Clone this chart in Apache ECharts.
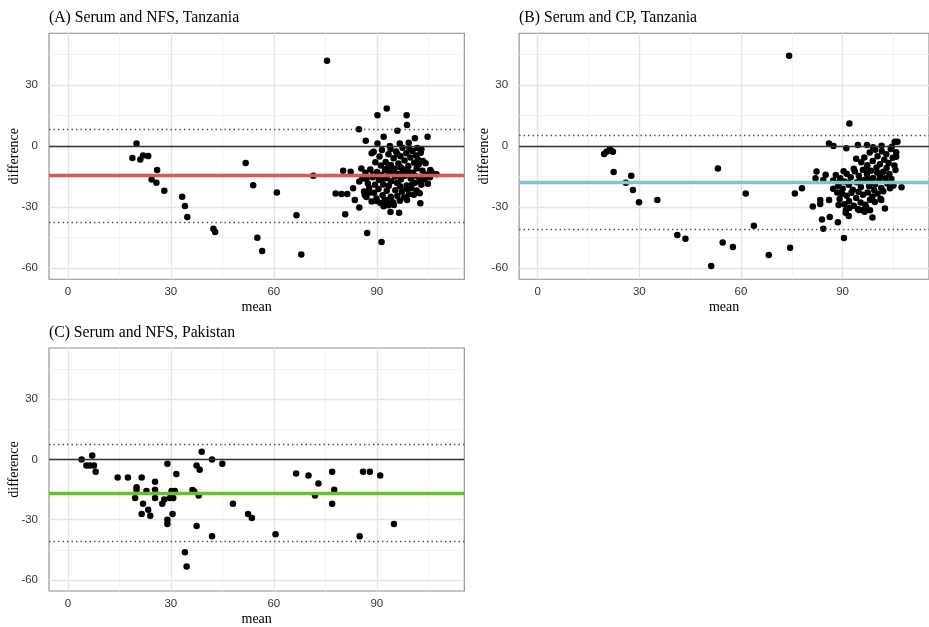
<!DOCTYPE html>
<html>
<head>
<meta charset="utf-8">
<script src="https://cdn.jsdelivr.net/npm/echarts@6/dist/echarts.min.js"></script>
<style>
  html, body { margin: 0; padding: 0; background: #ffffff; }
  #chart { width: 929px; height: 627px; }
</style>
</head>
<body>
<div id="chart"></div>
<script>
// Bland-Altman panels: difference vs mean of paired measurements

const panelTitles = [
  '(A) Serum and NFS, Tanzania',
  '(B) Serum and CP, Tanzania',
  '(C) Serum and NFS, Pakistan'
];

// Axis breaks
const xTicks = [0, 30, 60, 90];
const xMinor = [15, 45, 75, 105];
const yTicks = [-60, -30, 0, 30];
const yMinor = [-45, -15, 15, 45];
const xLimits = [0, 110];
const yLimits = [-60, 50];

// Mean difference and 95% limits of agreement per panel
const meanDiff = [-14.6, -17.8, -16.75];
const upperLoA = [8.4, 5.4, 7.4];
const lowerLoA = [-37.7, -41.0, -40.9];

// (A) Serum vs NFS, Tanzania  [mean, difference]
const pointsA = [
  [75.5, 42], [20.0, 1.3], [18.8, -5.9], [21.1, -6.6], [21.9, -4.6], [23.4, -4.9],
  [26.0, -11.8], [24.4, -16.4], [25.8, -18.0], [28.1, -22.0], [33.3, -24.9], [34.1, -29.5],
  [34.8, -34.9], [42.4, -40.7], [42.9, -42.3], [51.8, -8.4], [54.0, -19.3], [55.2, -45.1],
  [56.6, -51.6], [60.9, -22.8], [66.6, -34.1], [68.0, -53.3], [71.5, -14.6],
  [92.9, 18.5], [90.2, 15.2], [98.7, 15.2], [98.8, 10.3], [84.8, 8.2], [96.0, 7.5],
  [104.8, 4.6], [101.1, 3.8], [92.0, 4.6], [86.8, 2.6], [90.2, 1.3], [96.7, 1.3],
  [99.3, 1.6], [93.8, 0], [89.1, -2.8], [103.0, -1.6], [102.0, -6.6], [104.2, -8.5],
  [80.2, -12.1], [82.4, -12.6], [85.5, -11.0], [105.6, -11.8], [107.4, -13.9],
  [78.0, -23.3], [79.7, -23.6], [81.4, -23.6], [83.1, -20.8], [83.6, -26.6], [84.9, -30.2],
  [80.8, -33.6], [84.9, -17.5], [86.5, -24.1], [87.2, -42.8], [91.4, -47.2], [94.0, -32.5],
  [96.5, -32.8], [98.8, -26.6], [102.7, -28.2], [92.8, -26.6],
  [88.5, -3.5], [90.8, -5.2], [91.5, -2.0], [92.6, -7.8], [93.4, -4.1], [94.1, -9.3],
  [94.9, -6.0], [95.6, -2.7], [96.3, -8.6], [96.9, -5.0], [97.5, -0.8], [98.1, -7.1],
  [98.6, -3.6], [99.2, -9.8], [99.8, -5.7], [100.4, -2.4], [100.9, -8.2], [101.5, -4.6],
  [102.2, -9.1], [102.8, -3.3], [103.5, -7.4], [97.0, -10.5], [95.2, -11.2], [93.0, -10.9],
  [91.2, -9.6], [89.6, -8.0], [99.5, -1.2], [96.0, -3.9], [101.8, -1.0], [94.0, -1.5],
  [85.8, -16.0], [86.7, -13.2], [87.4, -18.4], [88.1, -11.5], [88.8, -15.3], [89.5, -19.0],
  [90.1, -12.8], [90.6, -16.7], [91.3, -14.2], [91.9, -18.9], [92.4, -11.9], [93.0, -15.8],
  [93.6, -13.0], [94.2, -17.3], [94.7, -12.1], [95.3, -15.0], [95.9, -18.2], [96.4, -13.7],
  [97.0, -16.4], [97.6, -11.4], [98.2, -14.6], [98.7, -19.4], [99.3, -12.5], [99.9, -16.0],
  [100.5, -13.3], [101.1, -18.0], [101.6, -11.0], [102.2, -15.2], [102.7, -17.6], [103.3, -12.2],
  [103.9, -16.3], [104.4, -14.0], [104.9, -18.5], [105.5, -15.4], [106.0, -13.0], [92.0, -16.0],
  [96.8, -19.8], [100.2, -19.1], [89.0, -13.8], [87.0, -16.2], [98.0, -13.0], [95.0, -14.0],
  [93.5, -19.5], [101.0, -14.5], [103.0, -19.0], [90.0, -14.5],
  [86.3, -22.4], [87.0, -25.1], [87.8, -20.6], [88.5, -27.3], [89.2, -23.0], [89.9, -25.8],
  [90.5, -21.1], [91.1, -28.0], [91.7, -24.2], [92.3, -26.5], [92.9, -22.0], [93.5, -29.1],
  [94.1, -25.0], [94.7, -27.6], [95.4, -21.8], [96.0, -24.6], [96.7, -26.9], [97.3, -22.5],
  [98.0, -25.3], [98.6, -21.0], [99.3, -23.7], [100.0, -20.8], [100.8, -24.0], [101.6, -21.9],
  [102.5, -23.2], [90.0, -27.0], [92.0, -29.6], [93.0, -27.8], [95.0, -29.0], [88.0, -22.8]
];

// (B) Serum vs CP, Tanzania  [mean, difference]
const pointsB = [
  [74.2, 44.4], [19.6, -3.9], [20.3, -2.8], [21.3, -1.5], [21.7, -2.3], [22.2, -2.8],
  [22.4, -12.8], [26.0, -18.0], [27.6, -14.6], [28.1, -21.6], [29.9, -27.7], [35.3, -26.6],
  [41.2, -43.8], [43.6, -45.6], [51.2, -59.0], [53.2, -11.1], [54.6, -47.5], [57.6, -49.7],
  [61.4, -23.4], [63.8, -39.2], [68.2, -53.6], [74.5, -50.0], [75.9, -23.4], [78.0, -20.8],
  [81.2, -29.8], [82.3, -12.5], [82.0, -15.9], [86.0, 1.3], [87.3, 0], [92.0, 11.1],
  [91.1, -1.1], [94.5, 0.5], [97.2, 0.5], [105.4, 2.1], [106.2, 2.1], [104.5, -0.3],
  [105.8, -5.3], [107.4, -20.3], [83.4, -26.6], [83.4, -28.5], [83.9, -36.1], [84.3, -40.7],
  [86.2, -34.9], [86.0, -26.6], [88.6, -37.5], [90.4, -45.2], [91.8, -34.4], [98.8, -35.1],
  [98.1, -31.6], [95.7, -31.5], [102.5, -30.7], [85.0, -14.1], [84.3, -16.7], [87.2, -21.0],
  [90.9, -32.8], [96.5, -32.3], [101.4, -26.6], [94.8, -31.5],
  [95.5, -8.0], [96.4, -5.6], [97.3, -9.5], [98.0, -3.2], [98.9, -7.4], [99.6, -1.8],
  [100.3, -5.0], [101.0, -9.0], [101.6, -2.6], [102.3, -6.7], [102.9, -4.0], [103.6, -8.3],
  [104.2, -1.5], [104.8, -5.8], [105.3, -9.6], [97.0, -11.0], [100.0, -10.5], [103.0, -10.8],
  [99.0, -0.6], [94.0, -6.2], [101.5, 0.2], [105.8, -3.0],
  [87.2, -17.0], [88.0, -14.2], [88.7, -19.5], [89.3, -15.8], [90.0, -21.0], [90.6, -17.4],
  [91.2, -13.6], [91.8, -19.0], [92.4, -15.4], [93.0, -21.5], [93.6, -12.4], [94.2, -17.8],
  [94.8, -14.6], [95.4, -20.2], [96.0, -11.8], [96.6, -16.6], [97.2, -13.9], [97.8, -19.7],
  [98.4, -12.2], [99.0, -15.7], [99.6, -18.8], [100.2, -13.0], [100.8, -16.9], [101.4, -20.6],
  [102.0, -12.6], [102.6, -15.8], [103.2, -18.4], [103.8, -13.7], [104.4, -16.2], [105.0, -19.4],
  [105.6, -11.8], [89.0, -17.8], [92.0, -18.2], [95.0, -17.0], [98.0, -16.5], [101.0, -14.6],
  [104.0, -20.8], [93.3, -11.2], [90.3, -12.4], [99.3, -21.6],
  [88.4, -22.8], [89.1, -26.0], [89.8, -23.5], [90.5, -28.6], [91.2, -24.4], [91.9, -27.2],
  [92.6, -23.0], [93.3, -29.4], [94.0, -25.6], [94.7, -22.5], [95.3, -27.8], [96.0, -24.0],
  [96.7, -28.9], [97.4, -22.9], [98.1, -26.4], [98.8, -24.8], [99.5, -27.5], [100.3, -23.4],
  [101.2, -25.9], [102.0, -22.3], [92.0, -30.5], [94.5, -31.0], [97.0, -30.2], [91.0, -31.5],
  [88.8, -29.0]
];

// (C) Serum vs NFS, Pakistan  [mean, difference]
const pointsC = [
  [4.0, 0], [5.4, -3.0], [6.4, -3.0], [7.6, -3.0], [7.1, 2.0], [8.1, -6.1],
  [14.5, -9.0], [17.5, -9.0], [21.5, -9.0], [20.0, -13.9], [20.0, -15.1], [19.6, -19.2],
  [21.9, -22.0], [21.5, -27.2], [22.9, -15.7], [23.4, -25.1], [24.0, -28.0], [25.4, -11.1],
  [25.4, -15.1], [25.4, -19.2], [27.5, -22.1], [28.1, -20.0], [29.0, -2.1], [29.0, -30.0],
  [29.0, -32.1], [29.7, -19.2], [30.5, -27.2], [30.2, -15.7], [31.2, -15.7], [30.7, -19.2],
  [31.6, -7.2], [34.1, -46.2], [34.6, -53.3], [36.3, -15.2], [36.8, -15.9], [37.5, -3.0],
  [37.5, -33.1], [38.1, -18.0], [38.4, -5.1], [39.0, 3.9], [42.0, 0], [42.0, -38.2],
  [45.0, -2.1], [48.1, -22.1], [52.5, -27.2], [53.6, -29.2], [60.5, -37.2], [66.5, -7.0],
  [70.1, -8.0], [72.0, -18.0], [73.0, -12.0], [77.0, -6.1], [77.0, -22.1], [77.6, -15.1],
  [85.0, -38.2], [86.0, -6.1], [88.0, -6.1], [91.0, -8.0], [95.0, -32.1]
];

const panelPoints = [pointsA, pointsB, pointsC];
const meanColors = ['#d05a5c', '#8cc0c9', '#62c42a'];

const SERIF = '"Liberation Serif", "Times New Roman", serif';
const SANS = '"Liberation Sans", Arial, sans-serif';

// ggplot-style expansion of 5% on each side of the limits
function expand(lim) {
  const pad = (lim[1] - lim[0]) * 0.05;
  return [lim[0] - pad, lim[1] + pad];
}
const xRange = expand(xLimits);
const yRange = expand(yLimits);

const gridBoxes = [
  { left: 49, top: 33.2, width: 415.3, height: 246 },
  { left: 519.1, top: 33.2, width: 415.3, height: 246 },
  { left: 49, top: 348, width: 415.3, height: 246.4 }
];

const grids = [], xAxes = [], yAxes = [], series = [], titles = [];

gridBoxes.forEach((box, i) => {
  grids.push(Object.assign({
    show: true,
    backgroundColor: '#ffffff',
    borderColor: '#8c8c8c',
    borderWidth: 1.1,
    z: 0
  }, box));

  titles.push({
    text: panelTitles[i],
    left: box.left,
    top: box.top - 23,
    padding: 0,
    textStyle: { fontFamily: SERIF, fontSize: 15.7, fontWeight: 'normal', color: '#000' }
  });

  xAxes.push({
    gridIndex: i, type: 'value', min: xRange[0], max: xRange[1],
    name: 'mean', nameLocation: 'middle', nameGap: 21, nameMoveOverlap: false,
    nameTextStyle: { fontFamily: SERIF, fontSize: 14, color: '#000' },
    axisLine: { show: false },
    axisTick: { show: true, length: 3, customValues: xTicks, lineStyle: { color: '#333', width: 1 } },
    axisLabel: { customValues: xTicks, margin: 7, fontFamily: SANS, fontSize: 11.5, color: '#333333' },
    splitLine: { show: false }
  });

  yAxes.push({
    gridIndex: i, type: 'value', min: yRange[0], max: yRange[1],
    name: 'difference', nameLocation: 'middle', nameGap: 28, nameMoveOverlap: false,
    nameTextStyle: { fontFamily: SERIF, fontSize: 14, color: '#000' },
    axisLine: { show: false },
    axisTick: { show: true, length: 3, customValues: yTicks, lineStyle: { color: '#333', width: 1 } },
    axisLabel: { customValues: yTicks, margin: 11, fontFamily: SANS, fontSize: 11.5, color: '#333333' },
    splitLine: { show: false }
  });

  // panel grid lines (major and minor)
  const gridLines = [];
  xMinor.forEach(v => gridLines.push({ xAxis: v, lineStyle: { color: '#f0f0f0', width: 0.8, type: 'solid' } }));
  yMinor.forEach(v => gridLines.push({ yAxis: v, lineStyle: { color: '#f0f0f0', width: 0.8, type: 'solid' } }));
  xTicks.forEach(v => gridLines.push({ xAxis: v, lineStyle: { color: '#e4e4e4', width: 1.4, type: 'solid' } }));
  yTicks.forEach(v => gridLines.push({ yAxis: v, lineStyle: { color: '#e4e4e4', width: 1.4, type: 'solid' } }));

  series.push({
    type: 'line', xAxisIndex: i, yAxisIndex: i, data: [], silent: true, z: 1,
    markLine: { z: 1, silent: true, symbol: ['none', 'none'], label: { show: false }, animation: false, data: gridLines }
  });

  series.push({
    type: 'scatter', xAxisIndex: i, yAxisIndex: i, data: panelPoints[i], z: 2,
    symbol: 'circle', symbolSize: 6.5,
    itemStyle: { color: '#000000', opacity: 1 },
    silent: true
  });

  series.push({
    type: 'line', xAxisIndex: i, yAxisIndex: i, data: [], silent: true, z: 3,
    markLine: {
      z: 3, silent: true, symbol: ['none', 'none'], label: { show: false }, animation: false,
      data: [
        { yAxis: 0, lineStyle: { color: '#333333', width: 1.4, type: 'solid' } },
        { yAxis: upperLoA[i], lineStyle: { color: '#4a4a4a', width: 1.4, type: [1.4, 3.1] } },
        { yAxis: lowerLoA[i], lineStyle: { color: '#4a4a4a', width: 1.4, type: [1.4, 3.1] } },
        { yAxis: meanDiff[i], lineStyle: { color: meanColors[i], width: 3.4, type: 'solid' } }
      ]
    }
  });
});

const chart = echarts.init(document.getElementById('chart'), null, { renderer: 'canvas' });
chart.setOption({
  animation: false,
  backgroundColor: '#ffffff',
  title: titles,
  grid: grids,
  xAxis: xAxes,
  yAxis: yAxes,
  series: series
});
</script>
</body>
</html>
